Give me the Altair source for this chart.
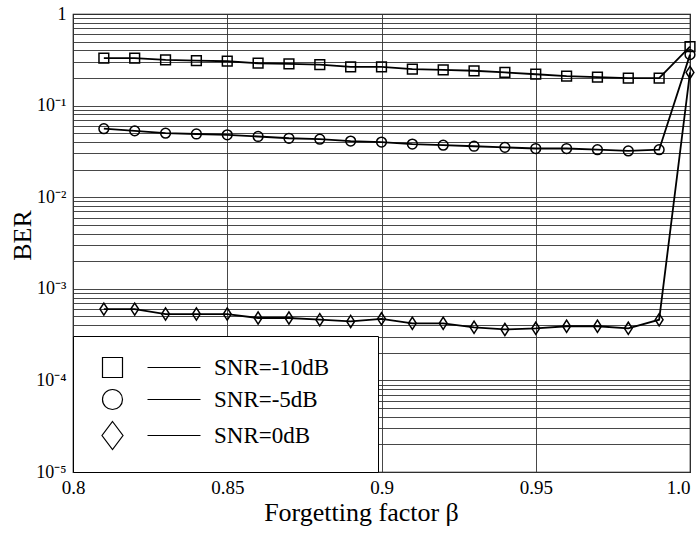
import altair as alt
import pandas as pd

# ---------------- data ----------------
beta = [0.81, 0.82, 0.83, 0.84, 0.85, 0.86, 0.87, 0.88, 0.89, 0.90,
        0.91, 0.92, 0.93, 0.94, 0.95, 0.96, 0.97, 0.98, 0.99, 1.00]
ber_snr_m10 = [0.33, 0.33, 0.315, 0.31, 0.305, 0.29, 0.285, 0.28, 0.265, 0.265,
               0.25, 0.245, 0.24, 0.23, 0.22, 0.21, 0.205, 0.20, 0.20, 0.44]
ber_snr_m5 = [0.056, 0.053, 0.050, 0.049, 0.048, 0.046, 0.044, 0.043, 0.041, 0.040,
              0.038, 0.037, 0.036, 0.035, 0.034, 0.034, 0.033, 0.032, 0.033, 0.36]
ber_snr_0 = [6.0e-4, 6.0e-4, 5.3e-4, 5.3e-4, 5.3e-4, 4.8e-4, 4.8e-4, 4.6e-4, 4.4e-4, 4.7e-4,
             4.2e-4, 4.2e-4, 3.8e-4, 3.6e-4, 3.7e-4, 3.9e-4, 3.9e-4, 3.7e-4, 4.6e-4, 0.23]
series_names = ["SNR=-10dB", "SNR=-5dB", "SNR=0dB"]

x_ticks = [0.8, 0.85, 0.9, 0.95, 1.0]
x_tick_labels = ["0.8", "0.85", "0.9", "0.95", "1.0"]
y_major = [1e-5, 1e-4, 1e-3, 1e-2, 1e-1, 1.0]
y_major_labels = ["10\u207b\u2075", "10\u207b\u2074", "10\u207b\u00b3", "10\u207b\u00b2", "10\u207b\u00b9", "1"]

# ---------------- build table ----------------
rows = []
for name, vals in zip(series_names, [ber_snr_m10, ber_snr_m5, ber_snr_0]):
    for b, v in zip(beta, vals):
        rows.append({"beta": b, "ber": v, "series": name})
df = pd.DataFrame(rows)

# minor log grid values
y_grid = [float(f"{m}e{k}") for k in range(-5, 0) for m in range(1, 10)] + [1.0]

y_label_expr = "''"
for v, l in zip(y_major, y_major_labels):
    y_label_expr = f"abs(datum.value - {v!r}) < {v!r}*1e-6 ? '{l}' : ({y_label_expr})"
x_label_expr = "datum.label"
for v, l in zip(x_ticks, x_tick_labels):
    x_label_expr = f"abs(datum.value - {v!r}) < 1e-6 ? '{l}' : ({x_label_expr})"

FONT = "Liberation Serif"

x_enc = alt.X("beta:Q",
              scale=alt.Scale(domain=[0.8, 1.0], nice=False, zero=False),
              axis=alt.Axis(values=x_ticks, title="Forgetting factor \u03b2",
                            labelExpr=x_label_expr,
                            grid=True, ticks=False, domain=False,
                            labelFont=FONT, labelFontSize=19, labelColor="black",
                            labelPadding=6, labelFlush=False,
                            labelAlign={"condition": {"test": "datum.value == 1", "value": "right"}, "value": "center"},
                            titleFont=FONT, titleFontSize=26, titleFontWeight="normal",
                            titleColor="black", titlePadding=2, titleX=288,
                            gridColor="#333", gridWidth=0.9))
y_enc = alt.Y("ber:Q",
              scale=alt.Scale(type="log", domain=[1e-5, 1.0], nice=False),
              axis=alt.Axis(values=y_grid, labelExpr=y_label_expr, title="BER",
                            grid=True, ticks=False, domain=False,
                            labelFont=FONT, labelFontSize=18, labelColor="black",
                            labelPadding=7, labelFlush=False,
                            titleFont=FONT, titleFontSize=26, titleFontWeight="normal",
                            titleColor="black", titleX=-51, titleY=221,
                            titleAngle=-90, titleBaseline="middle", titleAlign="center",
                            gridColor="#333", gridWidth=0.9))

plot_shapes = ["square", "circle", "M0,-1.25L0.8,0L0,1.25L-0.8,0Z"]
# legend symbol = marker + short line segment; trailing moveTo widens the legend box
legend_shapes = [
    "M-1,-1H1V1H-1Z M3.5,0H8.8 M24.3,0",
    "M-1,0A1,1,0,1,0,1,0A1,1,0,1,0,-1,0Z M3.5,0H8.8 M24.3,0",
    "M0,-1.4L1.05,0L0,1.4L-1.05,0Z M3.5,0H8.8 M24.3,0",
]

lines = alt.Chart(df).mark_line(color="black", strokeWidth=1.8).encode(
    x=x_enc, y=y_enc, detail="series:N")

points = alt.Chart(df).mark_point(filled=False, color="black", strokeWidth=1.5, size=95, opacity=1).encode(
    x=x_enc, y=y_enc,
    shape=alt.Shape("series:N", scale=alt.Scale(domain=series_names, range=plot_shapes), legend=None))

legend_layer = alt.Chart(df).transform_filter("false").mark_point(
    filled=False, color="black", strokeWidth=1.2, opacity=1).encode(
    x=x_enc, y=y_enc,
    shape=alt.Shape("series:N", scale=alt.Scale(domain=series_names, range=legend_shapes),
                    legend=alt.Legend(title=None, orient="bottom-left", offset=0,
                                      fillColor="white", strokeColor="black",
                                      padding=20, symbolOffset=8, labelOffset=90,
                                      rowPadding=7, symbolSize=400,
                                      symbolStrokeWidth=1.2, symbolStrokeColor="black",
                                      labelFont=FONT, labelFontSize=23, labelColor="black",
                                      labelLimit=0)))

chart = alt.layer(lines, points, legend_layer).resolve_scale(shape="independent").properties(
    width=617, height=458,
    autosize=alt.AutoSizeParams(type="none"),
    padding={"left": 73, "top": 14, "right": 9, "bottom": 61},
    background="white",
).configure_view(stroke="black", strokeWidth=1.2)

chart.save("out.html", embed_options={"renderer": "svg", "actions": False})
